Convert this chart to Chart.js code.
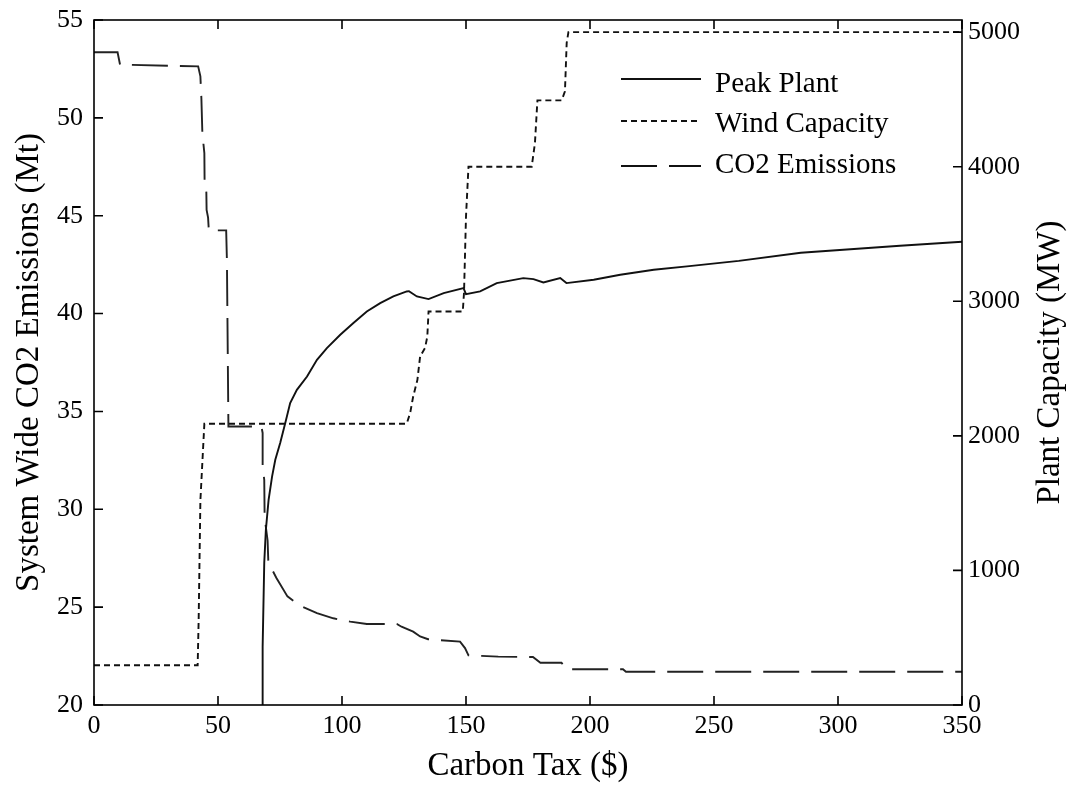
<!DOCTYPE html>
<html>
<head>
<meta charset="utf-8">
<script src="https://cdn.jsdelivr.net/npm/chart.js@4.4.0/dist/chart.umd.min.js"></script>
<style>
  html, body { margin: 0; padding: 0; background: #fff; }
  #wrap { width: 1072px; height: 790px; }
</style>
</head>
<body>
<div id="wrap"><canvas id="chart" width="1072" height="790"></canvas></div>
<script>
// tick labels
const xTicks = [0, 50, 100, 150, 200, 250, 300, 350];
const co2Ticks = [20, 25, 30, 35, 40, 45, 50, 55];
const capTicks = [0, 1000, 2000, 3000, 4000, 5000];

// Peak Plant (MW, right axis)
const peakTax = [68, 68, 68.65, 69.3, 70.4, 71.8, 73.1, 75.1, 77.1, 79.1, 81.8, 85.9, 89.9, 93.9, 99.3,
  104.6, 110, 115.4, 120.7, 126.1, 127, 130.2, 134.9, 141, 149, 150, 155.7, 162.4, 173.1, 177.2,
  181.2, 188, 190.5, 201.5, 212.2, 225.7, 239.1, 260, 285, 325, 350];
const peakMW = [0, 433, 1056, 1301, 1524, 1697, 1822, 1948, 2094, 2243, 2342, 2441, 2565, 2652, 2751,
  2838, 2924, 2986, 3036, 3073, 3075, 3036, 3016, 3061, 3098, 3053, 3073, 3135, 3172, 3165,
  3140, 3172, 3135, 3160, 3197, 3234, 3259, 3300, 3360, 3413, 3442];

// Wind Capacity (MW, right axis)
const windTax = [0, 41.8, 42.2, 42.9, 44.5, 126.1, 127.5, 128.7, 130.4, 131.5, 133.5, 134.4, 134.9,
  148.7, 149.2, 150.0, 151.0, 176.5, 177.8, 178.8, 188.6, 189.9, 190.6, 191.3, 350];
const windMW = [295, 295, 632, 1520, 2090, 2090, 2171, 2292, 2416, 2590, 2654, 2738, 2924,
  2924, 3063, 3630, 4000, 4000, 4176, 4493, 4493, 4560, 4920, 5000, 5000];

// CO2 Emissions (Mt, left axis)
const co2Tax = [0, 9.5, 10.5, 42, 42.9, 43.3, 43.7, 44.5, 44.6, 45.3, 45.4, 46.0, 46.3, 53.3, 53.6,
  54.2, 67.5, 68.0, 68.0, 68.65, 68.8, 70.0, 70.3, 73.5, 78.0, 83.2, 89.9, 96.5, 103.3, 110,
  122.1, 124, 128.7, 131.5, 134.7, 147.6, 149.6, 151, 163, 177, 180, 188.5, 190.6, 213.3, 214.5, 350];
const co2Mt = [53.35, 53.35, 52.72, 52.63, 52.12, 51.0, 49.2, 48.2, 46.7, 46.2, 45.3, 44.9, 44.25, 44.25, 42.7,
  34.23, 34.23, 33.9, 32.2, 31.5, 29.6, 28.4, 27.3, 26.5, 25.55, 25.06, 24.69, 24.43, 24.26, 24.14,
  24.14, 24.0, 23.75, 23.5, 23.36, 23.24, 22.91, 22.54, 22.47, 22.45, 22.16, 22.16, 21.83, 21.83, 21.7, 21.7];

const legendNames = ['Peak Plant', 'Wind Capacity', 'CO2 Emissions'];

const pts = (xs, ys) => xs.map((x, i) => ({ x: x, y: ys[i] }));
const FONT = "'Liberation Serif', 'Times New Roman', serif";
const tickFont = { family: FONT, size: 26 };
const dashes = [[], [6, 4], [36, 12]];
const plain = v => String(v);
// no extra room for labels that stick out past the plot box
const noPad = s => { s.paddingTop = 0; s.paddingBottom = 0; s.paddingLeft = 0; s.paddingRight = 0; };

const framePlugin = {
  id: 'frame',
  afterDatasetsDraw(chart) {
    const { ctx, chartArea: a, scales } = chart;
    ctx.save();
    ctx.strokeStyle = '#000';
    ctx.lineWidth = 1.6;
    ctx.setLineDash([]);
    ctx.strokeRect(a.left, a.top, a.right - a.left, a.bottom - a.top);
    const t = 9;
    ctx.beginPath();
    xTicks.forEach(v => {
      const px = scales.x.getPixelForValue(v);
      ctx.moveTo(px, a.bottom); ctx.lineTo(px, a.bottom - t);
      ctx.moveTo(px, a.top); ctx.lineTo(px, a.top + t);
    });
    co2Ticks.forEach(v => {
      const py = scales.y.getPixelForValue(v);
      ctx.moveTo(a.left, py); ctx.lineTo(a.left + t, py);
    });
    capTicks.forEach(v => {
      const py = scales.y1.getPixelForValue(v);
      ctx.moveTo(a.right, py); ctx.lineTo(a.right - t, py);
    });
    ctx.stroke();

    // legend inside the plot, no box
    const lineY = [79, 121, 166];
    const textY = [84, 124, 165];
    ctx.font = '29px ' + FONT;
    ctx.fillStyle = '#000';
    ctx.textBaseline = 'middle';
    ctx.textAlign = 'left';
    legendNames.forEach((name, i) => {
      ctx.beginPath();
      ctx.setLineDash(dashes[i]);
      ctx.lineWidth = 1.9;
      ctx.strokeStyle = '#111';
      ctx.moveTo(621, lineY[i]); ctx.lineTo(701, lineY[i]);
      ctx.stroke();
      ctx.fillText(name, 715, textY[i]);
    });

    // right axis title, reading bottom to top
    ctx.setLineDash([]);
    ctx.font = '33px ' + FONT;
    ctx.textAlign = 'center';
    ctx.translate(1050, (a.top + a.bottom) / 2);
    ctx.rotate(-Math.PI / 2);
    ctx.fillText('Plant Capacity (MW)', 0, 0);
    ctx.restore();
  }
};

new Chart(document.getElementById('chart'), {
  type: 'line',
  data: {
    datasets: [
      { label: legendNames[0], data: pts(peakTax, peakMW), yAxisID: 'y1',
        borderColor: '#111', borderWidth: 1.9, borderDash: dashes[0], pointRadius: 0, tension: 0 },
      { label: legendNames[1], data: pts(windTax, windMW), yAxisID: 'y1',
        borderColor: '#111', borderWidth: 1.9, borderDash: dashes[1], pointRadius: 0, tension: 0 },
      { label: legendNames[2], data: pts(co2Tax, co2Mt), yAxisID: 'y',
        borderColor: '#222', borderWidth: 1.9, borderDash: dashes[2], pointRadius: 0, tension: 0 }
    ]
  },
  options: {
    responsive: false,
    animation: false,
    devicePixelRatio: 1,
    layout: { padding: { top: 20, left: 0, right: 0, bottom: 0 } },
    plugins: { legend: { display: false }, tooltip: { enabled: false } },
    scales: {
      x: {
        type: 'linear', min: 0, max: 350,
        afterBuildTicks: s => { s.ticks = xTicks.map(v => ({ value: v })); },
        afterFit: s => { s.height = 85; noPad(s); },
        grid: { display: false, drawTicks: false },
        border: { display: false },
        ticks: { font: tickFont, color: '#000', padding: 6, maxRotation: 0, autoSkip: false, callback: plain },
        title: { display: true, text: 'Carbon Tax ($)', color: '#000',
          font: { family: FONT, size: 33 }, padding: { top: 0, bottom: 4 } }
      },
      y: {
        position: 'left', min: 20, max: 55,
        afterBuildTicks: s => { s.ticks = co2Ticks.map(v => ({ value: v })); },
        afterFit: s => { s.width = 94; noPad(s); },
        grid: { display: false, drawTicks: false },
        border: { display: false },
        ticks: { font: tickFont, color: '#000', padding: 11, autoSkip: false, callback: plain },
        title: { display: true, text: 'System Wide CO2 Emissions (Mt)', color: '#000',
          font: { family: FONT, size: 33 }, padding: { top: 10, bottom: 0 } }
      },
      y1: {
        position: 'right', min: 0, max: 5090,
        afterBuildTicks: s => { s.ticks = capTicks.map(v => ({ value: v })); },
        afterFit: s => { s.width = 110; noPad(s); },
        grid: { display: false, drawTicks: false },
        border: { display: false },
        ticks: { font: tickFont, color: '#000', padding: 6, autoSkip: false, callback: plain }
      }
    }
  },
  plugins: [framePlugin]
});
</script>
</body>
</html>
